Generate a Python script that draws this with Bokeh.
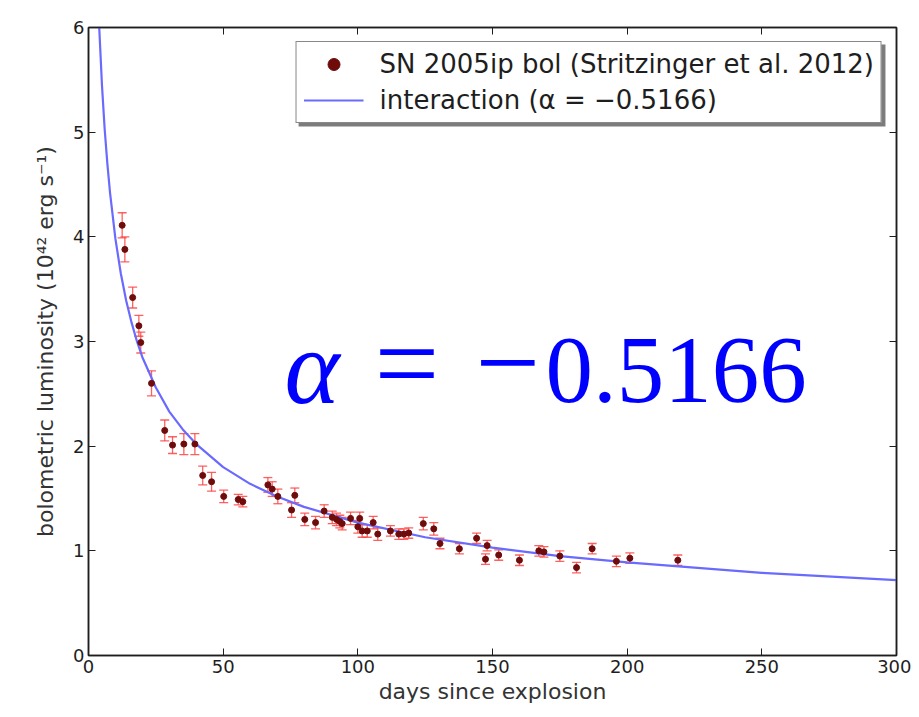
from bokeh.plotting import figure
from bokeh.models import (ColumnDataSource, Whisker, TeeHead, LinearAxis, Legend,
                          LegendItem, Label, BoxAnnotation, FixedTicker, Range1d)
from bokeh.embed import file_html
from bokeh.resources import INLINE

# ---- data ----
days = [12.5, 13.5, 16.4, 18.7, 19.4, 23.4, 28.3, 31.2, 35.4, 39.5,
        42.4, 45.7, 50.2, 55.6, 57.3, 66.6, 68.2, 70.3, 75.4, 76.6,
        80.3, 84.3, 87.5, 90.5, 92.1, 93.3, 94.2, 97.3, 100.0, 100.7,
        101.6, 103.5, 105.7, 107.4, 112.1, 115.2, 117.1, 118.9, 124.3, 128.2,
        130.5, 137.7, 144.1, 148.0, 147.4, 152.3, 160.0, 167.2, 169.1, 175.0,
        181.2, 187.0, 196.0, 201.0, 218.8]
lum = [4.11, 3.88, 3.42, 3.15, 2.99, 2.60, 2.15, 2.01, 2.02, 2.02,
       1.72, 1.66, 1.52, 1.49, 1.47, 1.63, 1.59, 1.52, 1.39, 1.53,
       1.30, 1.27, 1.38, 1.32, 1.30, 1.28, 1.26, 1.31, 1.23, 1.31,
       1.19, 1.19, 1.27, 1.16, 1.19, 1.16, 1.16, 1.17, 1.26, 1.21,
       1.07, 1.02, 1.12, 1.05, 0.92, 0.96, 0.91, 1.00, 0.99, 0.95,
       0.84, 1.02, 0.90, 0.93, 0.91]
err = [0.12, 0.12, 0.10, 0.10, 0.10, 0.12, 0.10, 0.08, 0.10, 0.10,
       0.09, 0.09, 0.06, 0.05, 0.05, 0.07, 0.07, 0.07, 0.07, 0.07,
       0.06, 0.06, 0.06, 0.06, 0.06, 0.06, 0.06, 0.06, 0.06, 0.06,
       0.06, 0.06, 0.06, 0.06, 0.05, 0.05, 0.05, 0.05, 0.06, 0.06,
       0.05, 0.05, 0.05, 0.05, 0.05, 0.05, 0.05, 0.05, 0.05, 0.05,
       0.05, 0.05, 0.05, 0.05, 0.05]

# interaction model curve (alpha = -0.5166)
model_days = [3.0, 3.5, 4, 5, 6, 7, 8, 10, 12, 14, 16, 18, 20, 25, 30, 35, 40,
              50, 60, 70, 80, 100, 125, 150, 175, 200, 250, 300]
model_lum = [6.72, 6.32, 5.99, 5.45, 5.03, 4.70, 4.42, 3.98, 3.65, 3.39, 3.18,
             3.00, 2.85, 2.56, 2.33, 2.16, 2.02, 1.80, 1.64, 1.52, 1.42, 1.27,
             1.13, 1.03, 0.95, 0.89, 0.79, 0.72]

x_ticks = [0, 50, 100, 150, 200, 250, 300]
y_ticks = [0, 1, 2, 3, 4, 5, 6]

legend_data = "SN 2005ip bol (Stritzinger et al. 2012)"
legend_model = "interaction (\u03b1 = \u22120.5166)"
x_title = "days since explosion"
y_title = "bolometric luminosity (10\u2074\u00b2 erg s\u207b\u00b9)"

FONT = "DejaVu Sans"
INK = "#1e1e1e"

p = figure(frame_width=808, frame_height=628,
           x_range=Range1d(0, 300), y_range=Range1d(0, 6),
           output_backend="svg", toolbar_location=None,
           min_border_left=88, min_border_right=15,
           min_border_top=27, min_border_bottom=54,
           background_fill_color="white", border_fill_color="white")
p.xgrid.visible = False
p.ygrid.visible = False
p.outline_line_color = INK
p.outline_line_width = 1.5

for ax, ticks in ((p.xaxis[0], x_ticks), (p.yaxis[0], y_ticks)):
    ax.ticker = FixedTicker(ticks=ticks)
    ax.major_tick_in = 7
    ax.major_tick_out = 0
    ax.minor_tick_line_color = None
    ax.axis_line_color = INK
    ax.axis_line_width = 1.5
    ax.major_tick_line_color = INK
    ax.major_label_text_font = FONT
    ax.major_label_text_font_size = "18px"
    ax.major_label_text_color = INK
    ax.major_label_standoff = 4
    ax.axis_label_text_font = FONT
    ax.axis_label_text_font_style = "normal"
    ax.axis_label_text_font_size = "22px"
    ax.axis_label_text_color = "#333333"

p.xaxis.axis_label = x_title
p.yaxis.axis_label = y_title
p.xaxis.axis_label_standoff = 3
p.yaxis.axis_label_standoff = 12

for loc, ticks in (("right", y_ticks), ("above", x_ticks)):
    ax = LinearAxis(ticker=FixedTicker(ticks=ticks), major_tick_in=7,
                    major_tick_out=0, minor_tick_line_color=None,
                    axis_line_color=INK, axis_line_width=1.5,
                    major_tick_line_color=INK,
                    major_label_overrides={float(t): "" for t in ticks})
    p.add_layout(ax, loc)

src = ColumnDataSource(dict(
    days=days, lum=lum,
    upper=[v + e for v, e in zip(lum, err)],
    lower=[v - e for v, e in zip(lum, err)]))

bar_col = "#ff4545"
wh = Whisker(source=src, base="days", upper="upper", lower="lower",
             line_color=bar_col, line_width=1.3, line_alpha=0.85,
             upper_head=TeeHead(size=9, line_color=bar_col, line_width=1.3, line_alpha=0.85),
             lower_head=TeeHead(size=9, line_color=bar_col, line_width=1.3, line_alpha=0.85))
p.add_layout(wh)

model_r = p.line(model_days, model_lum, line_color="#6a6aff", line_width=2.2)
data_r = p.scatter("days", "lum", source=src, size=6, marker="circle",
                   fill_color="#6e0c0c", line_color="#6e0c0c")

# legend shadow (matplotlib style)
shadow = BoxAnnotation(left=78.0, right=295.9, top=5.837, bottom=5.054,
                       fill_color="#444444", fill_alpha=0.7, line_color=None)
p.add_layout(shadow)

legend = Legend(items=[LegendItem(label=legend_data, renderers=[data_r]),
                       LegendItem(label=legend_model, renderers=[model_r])],
                location="top_right", margin=14,
                border_line_color="#111111", border_line_width=1.5,
                background_fill_color="white", background_fill_alpha=1.0,
                label_text_font=FONT, label_text_font_size="26px",
                label_text_color=INK,
                glyph_width=60, glyph_height=30, label_standoff=16,
                padding=7, spacing=6)
p.add_layout(legend)

BLUE = "#0000ff"
for xv, yv, txt, style, size in ((72.8, 2.75, "\u03b1", "italic", "105px"),
                                 (106.2, 2.79, "=", "normal", "115px"),
                                 (143.7, 2.79, "\u2212", "normal", "115px"),
                                 (169.7, 2.72, "0.5166", "normal", "95px")):
    p.add_layout(Label(x=xv, y=yv, text=txt, text_font="Liberation Serif",
                       text_font_style=style, text_font_size=size,
                       text_color=BLUE, text_baseline="alphabetic",
                       text_align="left"))

open("out.html", "w").write(file_html(p, INLINE))
